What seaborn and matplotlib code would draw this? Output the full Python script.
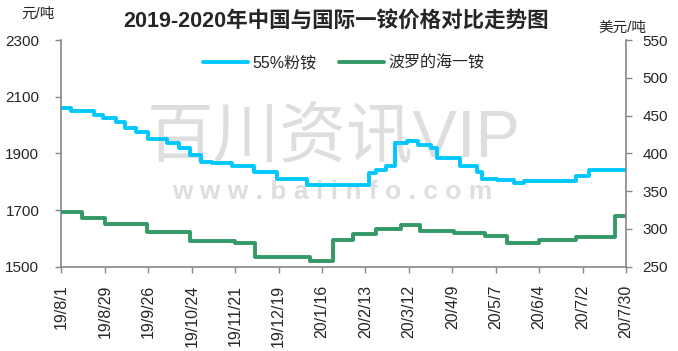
import pandas as pd
import seaborn as sns
import matplotlib
import matplotlib.pyplot as plt

sns.set_style('white')
plt.rcParams['font.family'] = ['Liberation Sans', 'Noto Sans CJK SC', 'DejaVu Sans']
plt.rcParams['axes.unicode_minus'] = False

# 55%粉铵 (元/吨), change points
cn_dates = ['2019-08-01', '2019-08-07', '2019-08-22', '2019-08-28', '2019-09-05', '2019-09-11',
            '2019-09-18', '2019-09-26', '2019-10-08', '2019-10-16', '2019-10-23', '2019-10-30',
            '2019-11-06', '2019-11-19', '2019-12-03', '2019-12-18', '2020-01-06', '2020-02-15',
            '2020-02-20', '2020-02-26', '2020-03-03', '2020-03-11', '2020-03-18', '2020-03-26',
            '2020-03-30', '2020-04-14', '2020-04-25', '2020-04-28', '2020-05-08', '2020-05-19',
            '2020-05-25', '2020-06-28', '2020-07-06', '2020-07-30']
cn_price = [2060, 2050, 2035, 2025, 2010, 1990,
            1975, 1950, 1935, 1920, 1895, 1870,
            1865, 1855, 1835, 1810, 1790, 1830,
            1840, 1855, 1935, 1945, 1930, 1920,
            1885, 1855, 1835, 1810, 1805, 1795,
            1803, 1820, 1840, 1840]

# 波罗的海一铵 (美元/吨), change points
bs_dates = ['2019-08-01', '2019-08-14', '2019-08-29', '2019-09-25', '2019-10-23', '2019-11-21',
            '2019-12-04', '2020-01-08', '2020-01-23', '2020-02-05', '2020-02-20', '2020-03-07',
            '2020-03-19', '2020-04-10', '2020-04-30', '2020-05-14', '2020-06-04', '2020-06-28',
            '2020-07-23', '2020-07-30']
bs_price = [322, 315, 307, 296, 284, 282,
            263, 258, 285, 293, 300, 305,
            297, 295, 291, 282, 286, 289,
            317, 317]

tick_labels = ['19/8/1', '19/8/29', '19/9/26', '19/10/24', '19/11/21', '19/12/19', '20/1/16',
               '20/2/13', '20/3/12', '20/4/9', '20/5/7', '20/6/4', '20/7/2', '20/7/30']
left_ticks = [1500, 1700, 1900, 2100, 2300]
right_ticks = [250, 300, 350, 400, 450, 500, 550]

cn = pd.DataFrame({'date': pd.to_datetime(cn_dates), 'price': cn_price})
bs = pd.DataFrame({'date': pd.to_datetime(bs_dates), 'price': bs_price})
tick_pos = pd.to_datetime(tick_labels, format='%y/%m/%d')

blue = '#00c8ff'
green = '#339966'
grey = '#868686'

fig = plt.figure(figsize=(6.78, 3.51), dpi=100)
ax = fig.add_axes([0.0907, 0.240, 0.8326, 0.646])
ax.patch.set_visible(False)

# watermark
fig.text(0.492, 0.60, '百川资讯VIP', fontsize=48, color='#dedede', ha='center', va='center', zorder=-1)
fig.text(0.49, 0.452, 'w w w . b a i i n f o . c o m', fontsize=19, fontweight='bold',
         color='#dedede', ha='center', va='center', zorder=-1)

sns.lineplot(data=cn, x='date', y='price', ax=ax, color=blue, lw=2.8,
             drawstyle='steps-post', label='55%粉铵', legend=False)
ax2 = ax.twinx()
sns.lineplot(data=bs, x='date', y='price', ax=ax2, color=green, lw=2.8,
             drawstyle='steps-post', label='波罗的海一铵', legend=False)

ax.set_xlim(tick_pos[0], tick_pos[-1])
ax.set_ylim(1500, 2300)
ax2.set_ylim(250, 550)
ax.set_xticks(tick_pos)
ax.set_xticklabels(tick_labels, rotation=90, fontsize=11.5)
ax.set_yticks(left_ticks)
ax.set_yticklabels([str(v) for v in left_ticks], fontsize=11)
ax2.set_yticks(right_ticks)
ax2.set_yticklabels([str(v) for v in right_ticks], fontsize=11)
ax.set_xlabel('')
ax.set_ylabel('')
ax2.set_ylabel('')

for a in (ax, ax2):
    a.spines['top'].set_visible(False)
    for s in ('left', 'right', 'bottom'):
        a.spines[s].set_color(grey)
        a.spines[s].set_linewidth(1.2)
ax.spines['right'].set_visible(False)
ax2.spines['left'].set_visible(False)
ax2.spines['bottom'].set_visible(False)
ax.tick_params(axis='y', direction='out', length=4, width=1, color=grey, pad=12, left=True)
ax.tick_params(axis='x', direction='out', length=4, width=1, color=grey, pad=9, bottom=True)
ax2.tick_params(axis='y', direction='out', length=4, width=1, color=grey, pad=8, right=True)

h1, l1 = ax.get_legend_handles_labels()
h2, l2 = ax2.get_legend_handles_labels()
ax2.legend(h1 + h2, l1 + l2, loc='center', bbox_to_anchor=(0.5, 0.9), ncol=2, frameon=False,
           fontsize=11.5, handlelength=2.8, columnspacing=1.4, handletextpad=0.3)

fig.text(0.496, 0.94, '2019-2020年中国与国际一铵价格对比走势图', fontsize=15.5, fontweight='bold',
         ha='center', va='center')
fig.text(0.032, 0.962, '元/吨', fontsize=10.5, ha='left', va='center')
fig.text(0.882, 0.922, '美元/吨', fontsize=10.5, ha='left', va='center')

fig.savefig('out.png', dpi=100)
